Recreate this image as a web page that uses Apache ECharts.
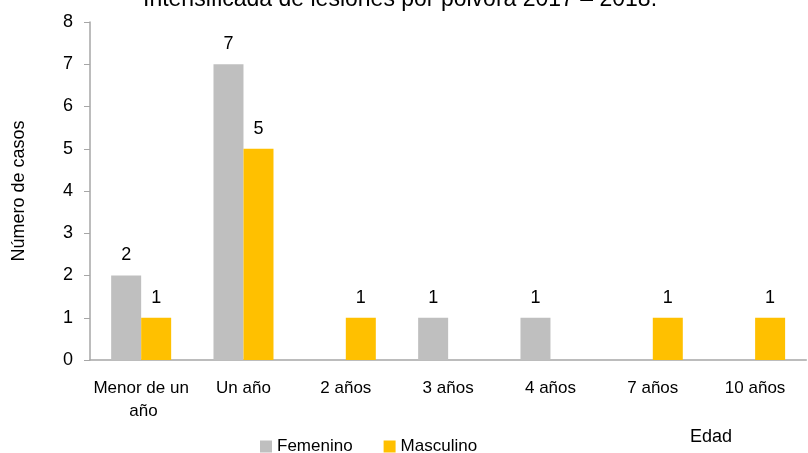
<!DOCTYPE html>
<html>
<head>
<meta charset="utf-8">
<script src="https://cdn.jsdelivr.net/npm/echarts@6/dist/echarts.min.js"></script>
<style>
  html, body { margin: 0; padding: 0; background: #fff; }
  #chart { width: 808px; height: 453px; }
</style>
</head>
<body>
<div id="chart"></div>
<script>
const categories = ["Menor de un año", "Un año", "2 años", "3 años", "4 años", "7 años", "10 años"];
const femenino = [2, 7, 0, 1, 1, 0, 0];
const masculino = [1, 5, 1, 0, 0, 1, 1];
const yTicks = [0, 1, 2, 3, 4, 5, 6, 7, 8];

const font = "'Liberation Sans', Arial, sans-serif";
const chart = echarts.init(document.getElementById("chart"));

const barLabel = {
  show: true,
  position: "top",
  distance: 11,
  color: "#000",
  fontSize: 18,
  fontFamily: font,
  formatter: (p) => (p.value ? p.value : "")
};

chart.setOption({
  animation: false,
  title: {
    text: "Intensificada de lesiones por pólvora 2017 – 2018.",
    left: 138,
    top: -17,
    textStyle: { color: "#000", fontSize: 23, fontWeight: "normal", fontFamily: font }
  },
  legend: {
    left: 255,
    top: 433,
    itemWidth: 12,
    itemHeight: 12,
    itemGap: 31,
    icon: "rect",
    textStyle: { color: "#000", fontSize: 17, fontFamily: font }
  },
  grid: { left: 90, right: 0, top: 22, bottom: 93 },
  xAxis: {
    type: "category",
    data: categories,
    axisLine: { lineStyle: { color: "#a6a6a6", width: 1.5 } },
    axisTick: { show: false },
    axisLabel: {
      color: "#000",
      fontSize: 17,
      fontFamily: font,
      margin: 17,
      lineHeight: 23,
      width: 100,
      overflow: "break",
      interval: 0
    }
  },
  yAxis: {
    type: "value",
    min: yTicks[0],
    max: yTicks[yTicks.length - 1],
    interval: 1,
    name: "Número de casos",
    nameLocation: "middle",
    nameGap: 62,
    nameTextStyle: { color: "#000", fontSize: 18, fontFamily: font },
    axisLine: { show: true, lineStyle: { color: "#a6a6a6", width: 1.5 } },
    axisTick: { show: true, length: 6, lineStyle: { color: "#a6a6a6" } },
    splitLine: { show: false },
    axisLabel: { color: "#000", fontSize: 18, fontFamily: font, margin: 17 }
  },
  graphic: [{
    type: "text",
    left: 690,
    top: 428,
    style: { text: "Edad", fill: "#000", fontSize: 18, fontFamily: font }
  }],
  series: [
    {
      name: "Femenino",
      type: "bar",
      data: femenino,
      barWidth: 30,
      barGap: "0%",
      itemStyle: { color: "#bfbfbf" },
      label: barLabel
    },
    {
      name: "Masculino",
      type: "bar",
      data: masculino,
      barWidth: 30,
      itemStyle: { color: "#ffc000" },
      label: barLabel
    }
  ]
});
</script>
</body>
</html>
